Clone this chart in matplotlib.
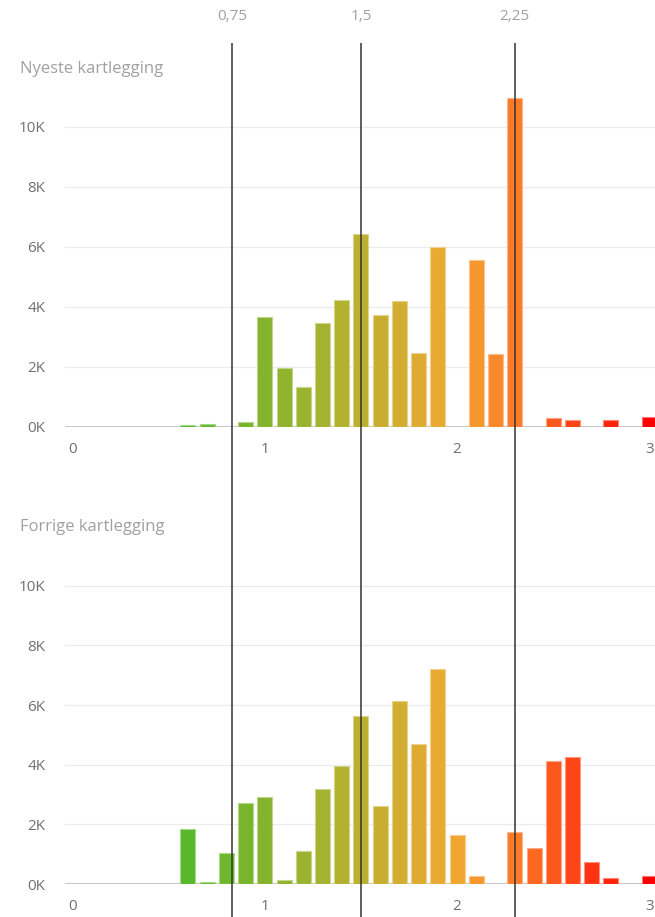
import matplotlib.pyplot as plt
from matplotlib.colors import LinearSegmentedColormap, to_rgb

# Klasser (midtpunkt) og antall per kartlegging
klasser = [0.6, 0.7, 0.8, 0.9, 1.0, 1.1, 1.2, 1.3, 1.4, 1.5, 1.6, 1.7, 1.8,
           1.9, 2.0, 2.1, 2.2, 2.3, 2.4, 2.5, 2.6, 2.7, 2.8, 2.9, 3.0]
nyeste = [60, 90, 0, 180, 3670, 1970, 1330, 3470, 4230, 6430, 3730, 4200, 2470,
          6000, 0, 5570, 2430, 10970, 0, 310, 240, 0, 240, 0, 320]
forrige = [1850, 60, 1030, 2700, 2930, 130, 1100, 3200, 3970, 5640, 2620, 6140, 4700,
           7200, 1640, 270, 0, 1730, 1200, 4130, 4250, 750, 210, 0, 280]

titler = ['Nyeste kartlegging', 'Forrige kartlegging']
y_ticks = [0, 2000, 4000, 6000, 8000, 10000]
y_labels = ['0K', '2K', '4K', '6K', '8K', '10K']
x_ticks = [0, 1, 2, 3]

ref_pos = [0.83, 1.50, 2.30]
ref_labels = ['0,75', '1,5', '2,25']

cmap = LinearSegmentedColormap.from_list('skala', [
    (0.0, '#58b82a'), (0.375, '#bcb030'), (0.58, '#f2a832'),
    (0.71, '#fb7a28'), (1.0, '#ff0000')])

def farge(x):
    return cmap((x - 0.6) / 2.4)

def lysere(c, f=0.45):
    r, g, b = to_rgb(c)[:3]
    return (r + (1 - r) * f, g + (1 - g) * f, b + (1 - b) * f)

W, H = 655, 917
fig = plt.figure(figsize=(W / 100, H / 100), dpi=100)
plt.rcParams['font.family'] = ['Open Sans', 'DejaVu Sans']

xmin, xmax = -0.039, 3.029
left = 65 / W

paneler = [(nyeste, 427, 330, 69), (forrige, 884, 328, 527)]
for (verdier, y0, hoyde, ty), tittel in zip(paneler, titler):
    ax = fig.add_axes([left, 1 - y0 / H, 1 - left, hoyde / H])
    farger = [farge(x) for x in klasser]
    ax.axhline(0, color='#c8c8c8', linewidth=1.5, zorder=2)
    ax.bar(klasser, verdier, width=0.078, color=farger,
           edgecolor=[lysere(c) for c in farger], linewidth=0.8, zorder=3)
    ax.set_xlim(xmin, xmax)
    ax.set_ylim(0, 11000)
    ax.set_yticks(y_ticks)
    ax.set_yticklabels(y_labels)
    ax.set_xticks(x_ticks)
    ax.set_xticklabels([str(t) for t in x_ticks])
    ax.grid(axis='y', color='#ececec', linewidth=1, zorder=0)
    for s in ax.spines.values():
        s.set_visible(False)
    ax.tick_params(length=0, labelsize=11, colors='#707070')
    ax.tick_params(axis='y', pad=14)
    ax.tick_params(axis='x', pad=11)
    fig.text(20 / W, 1 - ty / H, tittel, fontsize=12, color='#a0a0a0',
             va='center', ha='left')

# Referanselinjer over begge paneler
ov = fig.add_axes([left, 0, 1 - left, 1 - 43 / H])
ov.set_xlim(xmin, xmax)
ov.set_ylim(0, 1)
ov.axis('off')
ov.patch.set_alpha(0)
for p, lab in zip(ref_pos, ref_labels):
    ov.axvline(p, color='#333333', linewidth=1.1, zorder=5)
    fig.text((65 + (p - xmin) / (xmax - xmin) * (W - 65)) / W, 1 - 17 / H, lab,
             fontsize=11, color='#a0a0a0', ha='center', va='center')

fig.savefig('out.png', dpi=100)
